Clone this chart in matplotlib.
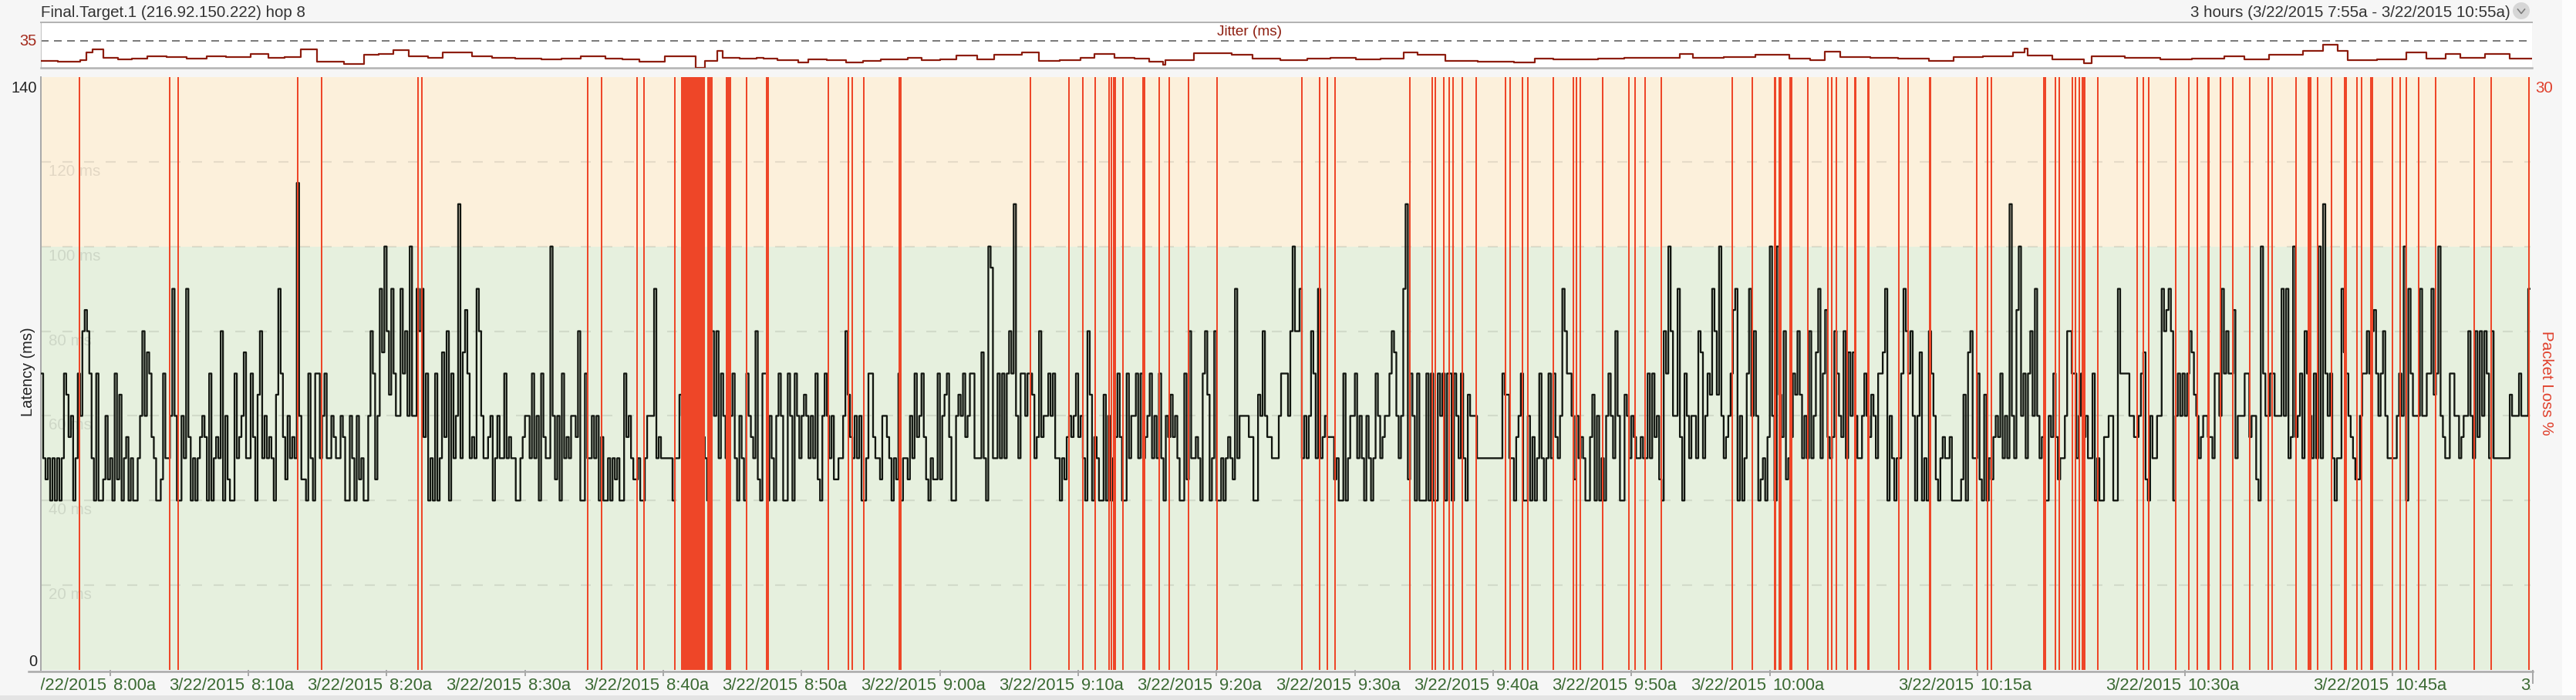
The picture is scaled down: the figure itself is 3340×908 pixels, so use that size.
import numpy as np
import matplotlib
matplotlib.use("Agg")
import matplotlib.pyplot as plt
from matplotlib.patches import Rectangle, Circle
from matplotlib.lines import Line2D
from matplotlib.transforms import (blended_transform_factory, offset_copy, Bbox,
                                   TransformedBbox, IdentityTransform)

plt.rcParams['font.family'] = ['Liberation Sans', 'DejaVu Sans']
plt.rcParams['lines.scale_dashes'] = False

# ---------------- data ----------------
TITLE = "Final.Target.1 (216.92.150.222) hop 8"
RANGE_TEXT = "3 hours (3/22/2015 7:55a - 3/22/2015 10:55a)"
DATE_TEXT = "3/22/2015"
# x axis: minutes after 7:55a
SPAN_MIN = 180
TICK_MIN = [5, 15, 25, 35, 45, 55, 65, 75, 85, 95, 105, 115, 125, 140, 155, 170, 185]
TICK_TIME = ["8:00a", "8:10a", "8:20a", "8:30a", "8:40a", "8:50a", "9:00a", "9:10a",
             "9:20a", "9:30a", "9:40a", "9:50a", "10:00a", "10:15a", "10:30a",
             "10:45a", "11:00a"]
GRID_MS = [20, 40, 60, 80, 100, 120]
WARN_MS = 100
LAT_MAX = 140
LOSS_MAX = 30
JITTER_REF = 35
JITTER_TOP = 59

# latency, one string per 10-minute block, one char per sample, value = base36 * 5 ms
LATENCY_CODES = [
    "ea9a8a8a8aedbc8aecghgea8e889c9a8e9d8ab8a88acgcfeba889eaacic8",
    "8caib8a8abcb8e8abag8c988eabcfaaeb8dgacaba8dieb9cabanc998ea8e",
    "eaceaacbaacb88ca8c9a88cge9cifkgdiecciegckccigibe8a8e8afbg8ea",
    "cmafheabaigcaabc8acaaeabaa88abccaeac8ebaakc9c8eabaccbg88eaac",
    "ac8b88a8a9a88ebca99a88accciabaaaaa8aadcbbbbbbbbba8cgcgaecaac",
    "ea8ca8ecbag98ee8ca8cec88ec8ecacdcacae98cecac99aacgdbacac88ae",
    "ebaa9ccba8a9e8aa9caebceb98a99e9cdeb88cdcebceeaaafa8kjaaeaeae",
    "gemcaeeceedabgbcceceaa8a9bcbcebca8gd8ba88d8c8abeb88eacceaeab",
    "ceacaea8cbdbca88e9gaaba8egd8ag88a8aba9iaccccbb88dcgcbbaaacee",
    "ecgkggiacacgeaiabcbbb9a88e8acceaca8ca8aecabccegfcacim9ec8e88",
    "8e8e88ece8ee8ecaea8dcccaaaaaaaaaaaeddaa8bce88c8b8aea8aeaebac",
    "igeec9caba88bd8c8a8cecagc88dcacbaabaaeaebc98gekgccib8ecaccag",
    "facedigdkcabcehi8c8aeicgc89a8bkc8kdbg9abedgdacagacfiaehbabge",
    "cbgafcfcaacecbdcaeefi8ca8aaeigegc8cf8a8gec98abaab88889d8fgaa",
    "e98d8a9bcbeacamcahkceaegcicab88cbeb9aacggeeacebcaae8a88bbcc8",
    "8ieeeeccbbcef98caaccighig8cececegfdcabccbbaeeciegeehaccceebc",
    "c98kecceeccciciabkbceagecaeakamecea8aaifecba99ceegeghecegcaa",
    "aaceck8iecccicceeidekcbaaeeccabccgcagbgcgeagaaaaaaadccceccci",
]

# packet loss events: (minute after 7:55a, duration in seconds)
LOSS_EVENTS = [
    (2.80, 7), (9.30, 7), (9.91, 7), (18.55, 7), (20.31, 7), (27.27, 7), (27.57, 7),
    (39.56, 7), (40.52, 7), (43.09, 7), (43.63, 7), (45.82, 7), (47.14, 104),
    (48.39, 23), (49.73, 23), (51.00, 7), (52.53, 14), (56.92, 7), (58.37, 7),
    (58.65, 7), (59.50, 7), (62.13, 14), (71.54, 7), (74.34, 7), (75.34, 7),
    (76.22, 7), (77.23, 7), (77.41, 7), (77.61, 14), (78.22, 7), (79.72, 14),
    (80.83, 7), (81.56, 7), (82.95, 7), (85.05, 7), (91.17, 7), (92.43, 7),
    (93.01, 7), (93.58, 7), (98.96, 7), (100.61, 7), (100.84, 7), (101.45, 7),
    (101.80, 7), (102.11, 7), (102.76, 7), (103.76, 7), (105.87, 7), (106.22, 7),
    (107.14, 7), (107.49, 7), (109.37, 7), (110.79, 7), (111.02, 7), (111.29, 7),
    (112.94, 7), (114.82, 7), (115.28, 7), (116.01, 7), (117.16, 7), (122.30, 7),
    (123.73, 7), (125.38, 7), (125.76, 14), (126.53, 14), (127.76, 7), (129.22, 7),
    (129.49, 7), (129.83, 7), (130.60, 7), (131.18, 7), (132.13, 7), (134.33, 7),
    (134.98, 7), (136.59, 7), (139.97, 7), (140.74, 7), (141.01, 7), (144.85, 14),
    (145.66, 7), (145.93, 7), (146.89, 7), (147.12, 7), (147.39, 7), (147.58, 7),
    (147.73, 14), (148.73, 7), (151.57, 7), (151.99, 7), (152.38, 7), (154.37, 7),
    (155.29, 7), (155.91, 7), (156.72, 7), (157.56, 7), (158.48, 7), (159.71, 7),
    (161.05, 7), (161.33, 7), (163.06, 7), (164.02, 14), (164.59, 7), (165.63, 7),
    (166.62, 14), (167.45, 7), (167.79, 7), (168.52, 14), (170.03, 7), (170.58, 7),
    (171.03, 7), (171.92, 7), (173.15, 7), (175.94, 7), (177.17, 7), (179.90, 7),
]
LOSS_PCT = 30

# jitter step points: (minute after 7:55a, ms)
JITTER = [
    (0.00, 9), (1.20, 8), (2.84, 10), (3.29, 20), (3.74, 24), (4.52, 13), (5.58, 11),
    (6.60, 12), (7.70, 15), (9.10, 14), (10.54, 12), (11.99, 15), (13.40, 14),
    (15.17, 18), (16.45, 13), (17.60, 14), (18.79, 24), (19.96, 8), (21.92, 5),
    (23.36, 17), (24.40, 18), (25.48, 23), (26.60, 15), (27.99, 13), (29.05, 20),
    (31.17, 15), (32.62, 13), (34.30, 12), (36.19, 11), (37.60, 12), (39.03, 15),
    (40.82, 12), (42.00, 11), (43.27, 8), (45.06, 15), (47.34, 0), (47.96, 9),
    (48.90, 22), (49.29, 13), (50.50, 12), (51.69, 13), (52.19, 12), (53.20, 10),
    (54.70, 7), (55.43, 11), (56.80, 10), (58.16, 7), (59.40, 9), (60.67, 11),
    (62.62, 13), (63.63, 10), (65.00, 11), (66.14, 16), (67.64, 11), (68.87, 17),
    (70.87, 20), (72.10, 9), (73.60, 10), (75.11, 13), (76.12, 18), (77.57, 13),
    (79.00, 12), (80.08, 8), (81.08, 4), (81.25, 10), (83.31, 19), (86.04, 17),
    (87.55, 12), (89.56, 10), (91.51, 12), (93.20, 13), (95.00, 11), (96.80, 12),
    (98.48, 20), (99.48, 17), (101.49, 9), (103.80, 8), (106.45, 7), (107.96, 12),
    (109.30, 11), (110.69, 11), (112.50, 12), (114.40, 13), (116.43, 13), (118.44, 18),
    (119.39, 13), (121.60, 14), (123.91, 17), (126.36, 12), (127.86, 10), (128.87, 21),
    (130.04, 14), (132.16, 13), (134.20, 12), (136.40, 9), (138.18, 14), (140.30, 15),
    (142.48, 20), (143.31, 25), (143.54, 16), (145.32, 11), (147.61, 6), (148.16, 15),
    (150.60, 13), (153.13, 11), (155.40, 12), (157.75, 15), (159.20, 11), (160.99, 17),
    (163.44, 22), (164.89, 30), (165.95, 22), (166.68, 10), (168.80, 11), (170.92, 20),
    (172.36, 12), (173.76, 18), (174.82, 13), (176.60, 18), (178.38, 12),
]

# ---------------- geometry (pixels) ----------------
W, H, DPI = 3340, 908, 100
PL, PR, PT, PB = 53, 3281, 100, 869       # main plot box
JT, JB = 29.3, 88.3                       # jitter strip


def fx(x):
    return x / W


def fy(y):
    return 1 - y / H


def pt(px):
    return px * 72.0 / DPI


C_ORANGE = '#fcf0db'
C_GREEN = '#e6f0de'
C_RED = '#ee4628'
C_LINE = '#121610'
C_JIT = '#8d1d0f'
C_GREEN_TXT = '#3b6a33'
C_AXIS = '#a9a9a9'

fig = plt.figure(figsize=(W / DPI, H / DPI), dpi=DPI)
fig.patch.set_facecolor('#f6f6f6')
fig.add_artist(Rectangle((0, 0), 1, 6 / H, transform=fig.transFigure,
                         facecolor='#e4e4e4', edgecolor='none', zorder=0))
fig.add_artist(Rectangle((3322 / W, 6 / H), 18 / W, 1, transform=fig.transFigure,
                         facecolor='#fdfdfd', edgecolor='none', zorder=0))

# ---------------- main axes ----------------
ax = fig.add_axes([fx(PL), fy(PB), (PR - PL) / W, (PB - PT) / H])
ax.set_xlim(0, SPAN_MIN)
ax.set_ylim(0, LAT_MAX)
ax.axhspan(0, WARN_MS, color=C_GREEN, lw=0, zorder=0)
ax.axhspan(WARN_MS, LAT_MAX, color=C_ORANGE, lw=0, zorder=0)
for g in GRID_MS:
    ax.axhline(g, color='#000000', alpha=0.085, lw=pt(2.2),
               linestyle=(0, (pt(13), pt(15))), zorder=1)
    ax.text(10 / (PR - PL), g, f"{g} ms", transform=offset_copy(
        blended_transform_factory(ax.transAxes, ax.transData), fig=fig, y=-3, units='dots'),
        ha='left', va='top', fontsize=pt(20.5), color='#000000', alpha=0.1, zorder=1)

# latency step line
lat_t, lat_v = [], []
for b, codes in enumerate(LATENCY_CODES):
    n = len(codes)
    for i, ch in enumerate(codes):
        lat_t.append(b * 10 + i * 10.0 / n)
        lat_v.append(int(ch, 36) * 5)
lat_t.append(SPAN_MIN)
lat_v.append(lat_v[-1])
ax.step(lat_t, lat_v, where='post', color=C_LINE, lw=pt(2.3), zorder=3)

for s in ['top', 'right', 'bottom']:
    ax.spines[s].set_visible(False)
ax.spines['left'].set_color(C_AXIS)
ax.spines['left'].set_linewidth(pt(2))
ax.set_yticks([])
ax.set_xticks([m for m in TICK_MIN if m <= SPAN_MIN])
ax.tick_params(axis='x', direction='out', length=pt(8), width=pt(2), color=C_AXIS,
               labelbottom=False)

# packet loss on the right axis
ax2 = ax.twinx()
ax2.set_ylim(0, LOSS_MAX)
ax2.set_yticks([])
for s in ax2.spines.values():
    s.set_visible(False)
loss_x = [e[0] for e in LOSS_EVENTS]
loss_w = [e[1] / 60.0 for e in LOSS_EVENTS]
ax2.bar(loss_x, [LOSS_PCT] * len(loss_x), width=loss_w, align='center',
        color=C_RED, linewidth=0, zorder=4)

# bottom axis line and end tick
fig.add_artist(Line2D([fx(37), fx(3284)], [fy(870.5), fy(870.5)], transform=fig.transFigure,
                      color=C_AXIS, lw=pt(2.5)))
fig.add_artist(Line2D([fx(3283.5), fx(3283.5)], [fy(870), fy(886)], transform=fig.transFigure,
                      color=C_AXIS, lw=pt(2)))

# x tick labels (date + time), clipped to plot width like the reference
clip = TransformedBbox(Bbox([[0, -2], [1, 0]]), ax.transAxes)
base = blended_transform_factory(ax.transData, fig.transFigure)
for m, lab in zip(TICK_MIN, TICK_TIME):
    t1 = fig.text(m, fy(895), DATE_TEXT, transform=offset_copy(base, fig=fig, x=-5, units='dots'),
                  ha='right', va='baseline', fontsize=pt(22), color=C_GREEN_TXT)
    t2 = fig.text(m, fy(895), lab, transform=offset_copy(base, fig=fig, x=4, units='dots'),
                  ha='left', va='baseline', fontsize=pt(22), color=C_GREEN_TXT)
    for t in (t1, t2):
        t.set_clip_on(True)
        t.set_clip_box(clip)

# axis texts
fig.text(fx(48), fy(115), str(LAT_MAX), ha='right', va='center', fontsize=pt(20), color='#222222')
fig.text(fx(48), fy(859), "0", ha='right', va='center', fontsize=pt(20), color='#222222')
fig.text(fx(37), fy(482), "Latency (ms)", rotation=90, ha='center', va='center',
         fontsize=pt(20), color='#222222')
fig.text(fx(3287), fy(115), str(LOSS_MAX), ha='left', va='center', fontsize=pt(20.5),
         color='#e0402c')
fig.text(fx(3302), fy(497), "Packet Loss %", rotation=270, ha='center', va='center',
         fontsize=pt(20.5), color='#e0402c')

# ---------------- jitter strip ----------------
axj = fig.add_axes([fx(PL), fy(JB), (PR + 2 - PL) / W, (JB - JT) / H])
axj.set_facecolor('#ffffff')
axj.set_xlim(0, SPAN_MIN)
axj.set_ylim(0, JITTER_TOP)
axj.set_xticks([])
axj.set_yticks([])
axj.spines['right'].set_visible(False)
axj.spines['top'].set_color('#b3b3b3')
axj.spines['top'].set_linewidth(pt(2))
axj.spines['bottom'].set_color('#b3b3b3')
axj.spines['bottom'].set_linewidth(pt(2.5))
axj.spines['left'].set_color('#c8c8c8')
axj.spines['left'].set_linewidth(pt(1.2))
axj.axhline(JITTER_REF, color='#7b7b7b', lw=pt(2), linestyle=(0, (pt(10), pt(7))), zorder=1)
jt = [p[0] for p in JITTER] + [SPAN_MIN]
jv = [p[1] for p in JITTER] + [JITTER[-1][1]]
axj.step(jt, jv, where='post', color=C_JIT, lw=pt(2.2), zorder=3)
fig.text(fx(48), fy(53.5), str(JITTER_REF), ha='right', va='center', fontsize=pt(20),
         color='#a3291b')
fig.text(fx(1620), fy(41), "Jitter (ms)", ha='center', va='center', fontsize=pt(19),
         color=C_JIT)

# ---------------- header ----------------
fig.text(fx(53), fy(21.5), TITLE, ha='left', va='baseline', fontsize=pt(20.5), color='#333333')
fig.text(fx(3255), fy(21.5), RANGE_TEXT, ha='right', va='baseline', fontsize=pt(20.5),
         color='#333333')
fig.add_artist(Circle((3269, H - 14), 11, transform=IdentityTransform(),
                      facecolor='#d6d6d6', edgecolor='none'))
fig.add_artist(Line2D([3264.5, 3269, 3273.5], [H - 12, H - 17.5, H - 12],
                      transform=IdentityTransform(), color='#7a7a7a', lw=pt(1.6)))

fig.savefig("out.png", dpi=DPI, facecolor=fig.get_facecolor())
